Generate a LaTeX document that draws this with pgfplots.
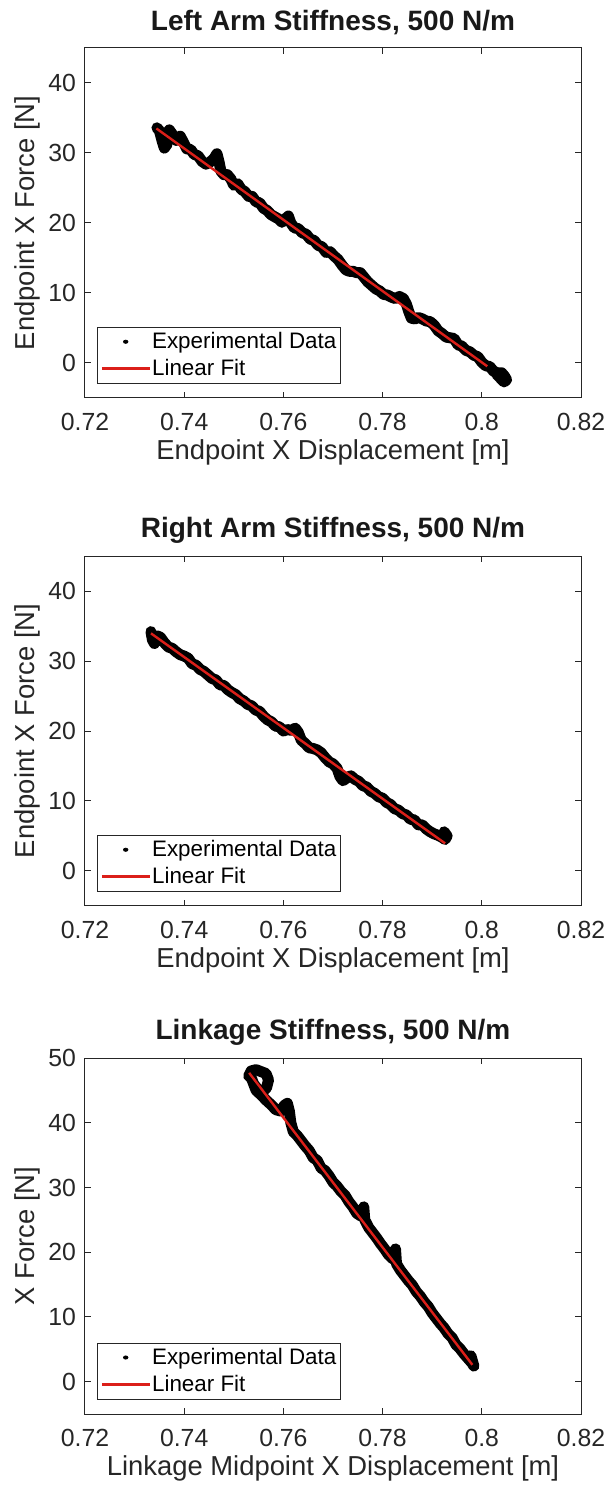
\documentclass[border=0pt]{standalone}
\usepackage{fontspec}
\setmainfont{Liberation Sans}
\usepackage{pgfplots}
\pgfplotsset{compat=1.18}
\definecolor{fitred}{rgb}{0.86,0.12,0.10}
\definecolor{axgray}{rgb}{0.15,0.15,0.15}

\pgfplotstableread{
x y
0.7345 33.6
0.7350 33.2
0.7356 31.6
0.7360 30.7
0.7366 31.3
0.7363 32.6
0.7370 33.3
0.7377 32.6
0.7384 31.8
0.7392 32.4
0.7398 31.6
0.7405 30.6
0.7413 30.5
0.7420 29.8
0.7428 29.6
0.7436 28.8
0.7444 28.4
0.7452 28.7
0.7460 29.2
0.7466 29.9
0.7470 28.8
0.7474 27.4
0.7480 26.9
0.7487 26.9
0.7494 26.3
0.7500 25.4
0.7508 25.6
0.7515 24.8
0.7522 24.5
0.7530 23.8
0.7537 23.8
0.7545 23.0
0.7552 22.9
0.7560 22.1
0.7567 21.8
0.7575 21.2
0.7582 20.9
0.7590 20.6
0.7597 20.1
0.7604 20.6
0.7610 21.0
0.7615 20.0
0.7622 19.3
0.7630 19.2
0.7638 18.6
0.7646 18.4
0.7654 17.7
0.7662 17.5
0.7670 16.8
0.7678 16.6
0.7686 15.8
0.7694 15.9
0.7702 15.3
0.7710 14.8
0.7718 14.0
0.7726 13.3
0.7733 13.1
0.7740 13.1
0.7748 12.9
0.7755 12.9
0.7762 12.3
0.7770 11.6
0.7778 11.1
0.7786 10.6
0.7794 10.3
0.7802 9.8
0.7810 9.7
0.7818 9.4
0.7826 9.2
0.7834 9.5
0.7842 9.2
0.7848 8.4
0.7853 7.3
0.7858 6.4
0.7865 6.3
0.7872 6.5
0.7880 6.3
0.7888 6.0
0.7896 5.9
0.7904 5.4
0.7912 4.6
0.7920 4.2
0.7928 3.7
0.7936 3.6
0.7944 3.5
0.7952 2.6
0.7960 2.4
0.7968 1.8
0.7976 1.6
0.7984 1.1
0.7992 0.9
0.8000 0.1
0.8008 -0.4
0.8016 -0.5
0.8024 -1.2
0.8032 -1.4
0.8040 -1.4
0.8046 -1.9
0.8050 -2.4
0.8045 -2.7
0.8038 -2.2
0.8030 -1.6
}\leftdata

\pgfplotstableread{
x y
0.7333 34.2
0.7336 33.0
0.7340 32.5
0.7345 33.6
0.7352 33.4
0.7360 32.6
0.7368 32.0
0.7376 31.8
0.7384 31.3
0.7392 30.9
0.7400 30.7
0.7408 30.4
0.7416 29.6
0.7424 29.4
0.7432 28.8
0.7440 28.5
0.7448 28.0
0.7456 27.5
0.7464 27.3
0.7472 26.6
0.7480 26.5
0.7488 25.9
0.7496 25.5
0.7504 25.2
0.7512 24.6
0.7520 24.3
0.7528 23.8
0.7536 23.6
0.7544 23.0
0.7552 22.8
0.7560 22.1
0.7568 21.6
0.7576 21.3
0.7584 20.7
0.7592 20.6
0.7600 20.0
0.7608 20.2
0.7616 20.1
0.7624 20.4
0.7630 19.8
0.7636 18.7
0.7644 18.2
0.7652 17.6
0.7660 17.5
0.7668 17.3
0.7676 16.9
0.7684 16.2
0.7692 15.6
0.7700 15.3
0.7708 14.7
0.7714 13.5
0.7720 12.9
0.7728 13.3
0.7736 13.6
0.7744 13.1
0.7752 12.8
0.7760 12.2
0.7768 12.0
0.7776 11.4
0.7784 11.1
0.7792 10.6
0.7800 10.4
0.7808 9.8
0.7816 9.5
0.7824 8.9
0.7832 8.7
0.7840 8.2
0.7848 8.0
0.7856 7.4
0.7864 7.3
0.7872 6.6
0.7880 6.6
0.7888 6.0
0.7896 5.6
0.7904 5.3
0.7912 5.1
0.7920 4.8
0.7926 4.5
0.7930 5.0
0.7924 5.6
}\rightdata

\pgfplotstableread{
x y
0.7530 47.2
0.7535 48.0
0.7545 48.2
0.7555 47.9
0.7565 47.6
0.7570 46.6
0.7566 45.4
0.7558 44.8
0.7548 45.2
0.7540 46.0
0.7536 46.8
0.7545 45.0
0.7555 44.3
0.7565 43.5
0.7575 42.8
0.7585 42.0
0.7595 41.8
0.7602 42.7
0.7608 43.0
0.7612 41.8
0.7615 40.0
0.7620 38.6
0.7628 38.0
0.7636 37.2
0.7644 36.4
0.7652 35.7
0.7660 34.6
0.7668 34.2
0.7676 33.0
0.7684 32.6
0.7692 31.8
0.7700 30.8
0.7708 30.2
0.7716 29.4
0.7724 28.8
0.7732 27.8
0.7740 27.0
0.7748 26.0
0.7756 25.6
0.7762 27.0
0.7764 25.0
0.7772 23.8
0.7780 23.0
0.7788 22.2
0.7796 21.3
0.7804 20.5
0.7812 19.6
0.7820 19.0
0.7826 20.5
0.7828 18.2
0.7836 17.2
0.7844 16.4
0.7852 15.6
0.7860 14.9
0.7868 13.9
0.7876 13.2
0.7884 12.3
0.7892 11.6
0.7900 10.6
0.7908 9.8
0.7916 9.0
0.7924 8.3
0.7932 7.4
0.7940 6.8
0.7948 5.7
0.7956 5.1
0.7964 4.3
0.7972 3.6
0.7980 2.9
0.7984 2.4
0.7978 4.0
}\linkdata

\pgfplotsset{
  stiffaxis/.style={
    scale only axis,
    width=248pt,
    xmin=0.72, xmax=0.82,
    xtick={0.72,0.74,0.76,0.78,0.80,0.82},
    xticklabels={0.72,0.74,0.76,0.78,0.8,0.82},
    ymin=-5,
    /pgf/number format/assume math mode=true,
    tick align=inside,
    major tick length=3pt,
    axis line style={axgray, line width=0.5pt},
    tick style={axgray, line width=0.5pt},
    tick label style={font=\fontsize{12.4}{14}\selectfont, text=axgray},
    xticklabel style={yshift=-4pt},
    yticklabel style={xshift=-1pt},
    every axis y label/.style={at={(axis description cs:-0.116,0.5)}, rotate=90, anchor=center,
      font=\fontsize{13.7}{16}\selectfont, text=axgray},
    every axis x label/.style={at={(axis description cs:0.5,0)}, anchor=center, yshift=-27pt,
      font=\fontsize{13.7}{16}\selectfont, text=axgray},
    title style={font=\bfseries\fontsize{14}{16}\selectfont, text=black!90, yshift=-3pt},
    legend style={at={(axis description cs:0.024,0.04)}, anchor=south west,
      draw=axgray, line width=0.4pt, font=\fontsize{11.2}{13}\selectfont,
      inner xsep=1.5pt, inner ysep=1pt, row sep=1pt,
      nodes={inner xsep=0.5pt, inner ysep=1.5pt}},
    legend image post style={xscale=1.4},
    legend cell align=left,
  },
  datastyle/.style={black, line width=5.5pt, line join=round, line cap=round, forget plot},
  fitstyle/.style={fitred, line width=1.2pt, forget plot},
}

\begin{document}
\begin{tikzpicture}
\useasboundingbox (-42.5pt,-40.5pt) rectangle (264pt,707pt);

\begin{axis}[stiffaxis, at={(0pt,508pt)}, height=175pt, ymax=45, ytick={0,10,20,30,40},
  title={Left Arm Stiffness, 500 N/m},
  xlabel={Endpoint X Displacement [m]}, ylabel={Endpoint X Force [N]}]
\addplot[datastyle] table[x=x,y=y] {\leftdata};
\addplot[fitstyle] coordinates {(0.7344,33.5) (0.8011,-0.47)};
\addlegendimage{only marks, mark=*, mark size=0.8pt, black}
\addlegendentry{Experimental Data}
\addlegendimage{fitred, line width=1.5pt}
\addlegendentry{Linear Fit}
\end{axis}

\begin{axis}[stiffaxis, at={(0pt,254pt)}, height=175pt, ymax=45, ytick={0,10,20,30,40},
  title={Right Arm Stiffness, 500 N/m},
  xlabel={Endpoint X Displacement [m]}, ylabel={Endpoint X Force [N]}]
\addplot[datastyle] table[x=x,y=y] {\rightdata};
\addplot[fitstyle] coordinates {(0.7333,33.95) (0.7926,3.95)};
\addlegendimage{only marks, mark=*, mark size=0.8pt, black}
\addlegendentry{Experimental Data}
\addlegendimage{fitred, line width=1.5pt}
\addlegendentry{Linear Fit}
\end{axis}

\begin{axis}[stiffaxis, at={(0pt,0pt)}, height=178pt, ymax=50, ytick={0,10,20,30,40,50},
  title={Linkage Stiffness, 500 N/m},
  xlabel={Linkage Midpoint X Displacement [m]}, ylabel={X Force [N]}]
\addplot[datastyle] table[x=x,y=y] {\linkdata};
\addplot[fitstyle] coordinates {(0.7531,47.7) (0.7981,2.6)};
\addlegendimage{only marks, mark=*, mark size=0.8pt, black}
\addlegendentry{Experimental Data}
\addlegendimage{fitred, line width=1.5pt}
\addlegendentry{Linear Fit}
\end{axis}
\end{tikzpicture}
\end{document}
